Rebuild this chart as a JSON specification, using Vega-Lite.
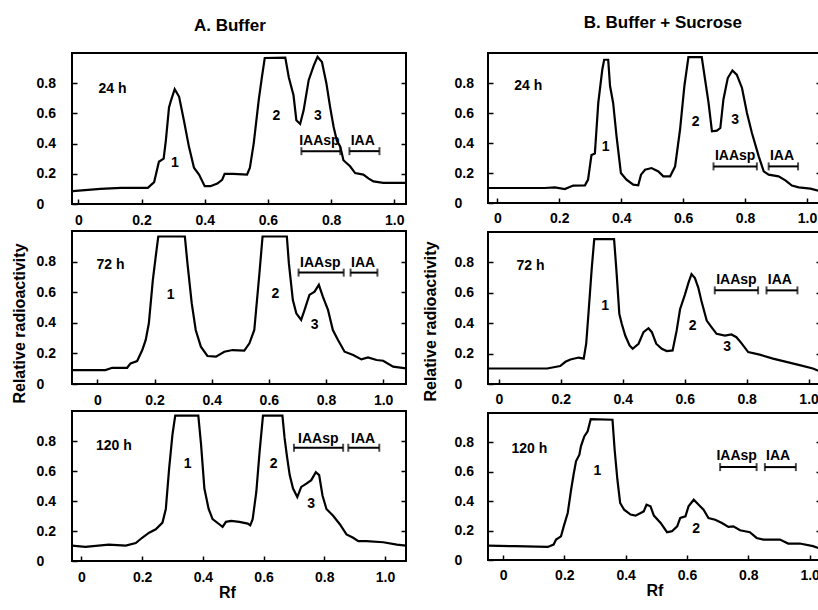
{
"$schema": "https://vega.github.io/schema/vega-lite/v6.json",
"background": "white",
"padding": {"left": 10, "top": 14, "right": 0, "bottom": 0},
"config": {
  "font": "Liberation Sans",
  "view": {"stroke": "black", "strokeWidth": 2},
  "title": {"fontSize": 17, "fontWeight": "bold", "font": "Liberation Sans", "anchor": "middle", "color": "black"},
  "axis": {"grid": false, "domain": false, "tickColor": "black", "tickWidth": 1.5, "tickSize": -5, "labelFont": "Liberation Sans", "labelFontSize": 14, "labelFontWeight": "bold", "labelColor": "black", "titleFont": "Liberation Sans", "titleFontSize": 16, "titleFontWeight": "bold", "titleColor": "black", "labelFlush": false, "labelOverlap": false}
},
"datasets": {
"curves": [
{"p":"A1","rf":-0.018,"ra":0.085},{"p":"A1","rf":0.07,"ra":0.1},{"p":"A1","rf":0.135,"ra":0.107},{"p":"A1","rf":0.22,"ra":0.107},{"p":"A1","rf":0.24,"ra":0.145},{"p":"A1","rf":0.255,"ra":0.28},{"p":"A1","rf":0.27,"ra":0.3},{"p":"A1","rf":0.277,"ra":0.42},{"p":"A1","rf":0.287,"ra":0.64},{"p":"A1","rf":0.294,"ra":0.69},{"p":"A1","rf":0.305,"ra":0.76},{"p":"A1","rf":0.319,"ra":0.71},{"p":"A1","rf":0.334,"ra":0.555},{"p":"A1","rf":0.35,"ra":0.38},{"p":"A1","rf":0.366,"ra":0.24},{"p":"A1","rf":0.382,"ra":0.195},{"p":"A1","rf":0.4,"ra":0.118},{"p":"A1","rf":0.418,"ra":0.118},{"p":"A1","rf":0.44,"ra":0.135},{"p":"A1","rf":0.455,"ra":0.16},{"p":"A1","rf":0.463,"ra":0.2},{"p":"A1","rf":0.49,"ra":0.2},{"p":"A1","rf":0.534,"ra":0.195},{"p":"A1","rf":0.543,"ra":0.24},{"p":"A1","rf":0.555,"ra":0.4},{"p":"A1","rf":0.571,"ra":0.69},{"p":"A1","rf":0.581,"ra":0.84},{"p":"A1","rf":0.59,"ra":0.967},{"p":"A1","rf":0.655,"ra":0.97},{"p":"A1","rf":0.666,"ra":0.84},{"p":"A1","rf":0.681,"ra":0.72},{"p":"A1","rf":0.69,"ra":0.555},{"p":"A1","rf":0.702,"ra":0.53},{"p":"A1","rf":0.713,"ra":0.62},{"p":"A1","rf":0.729,"ra":0.82},{"p":"A1","rf":0.745,"ra":0.917},{"p":"A1","rf":0.757,"ra":0.975},{"p":"A1","rf":0.771,"ra":0.94},{"p":"A1","rf":0.785,"ra":0.8},{"p":"A1","rf":0.797,"ra":0.64},{"p":"A1","rf":0.808,"ra":0.51},{"p":"A1","rf":0.818,"ra":0.42},{"p":"A1","rf":0.829,"ra":0.38},{"p":"A1","rf":0.839,"ra":0.29},{"p":"A1","rf":0.86,"ra":0.25},{"p":"A1","rf":0.876,"ra":0.205},{"p":"A1","rf":0.902,"ra":0.195},{"p":"A1","rf":0.918,"ra":0.17},{"p":"A1","rf":0.934,"ra":0.15},{"p":"A1","rf":0.965,"ra":0.14},{"p":"A1","rf":1.037,"ra":0.14},
{"p":"A2","rf":-0.087,"ra":0.091},{"p":"A2","rf":0.028,"ra":0.091},{"p":"A2","rf":0.052,"ra":0.106},{"p":"A2","rf":0.104,"ra":0.106},{"p":"A2","rf":0.116,"ra":0.135},{"p":"A2","rf":0.139,"ra":0.15},{"p":"A2","rf":0.157,"ra":0.222},{"p":"A2","rf":0.169,"ra":0.288},{"p":"A2","rf":0.18,"ra":0.397},{"p":"A2","rf":0.194,"ra":0.68},{"p":"A2","rf":0.204,"ra":0.833},{"p":"A2","rf":0.213,"ra":0.964},{"p":"A2","rf":0.306,"ra":0.964},{"p":"A2","rf":0.315,"ra":0.79},{"p":"A2","rf":0.33,"ra":0.528},{"p":"A2","rf":0.344,"ra":0.353},{"p":"A2","rf":0.362,"ra":0.244},{"p":"A2","rf":0.385,"ra":0.183},{"p":"A2","rf":0.415,"ra":0.179},{"p":"A2","rf":0.444,"ra":0.211},{"p":"A2","rf":0.473,"ra":0.222},{"p":"A2","rf":0.514,"ra":0.218},{"p":"A2","rf":0.532,"ra":0.266},{"p":"A2","rf":0.549,"ra":0.353},{"p":"A2","rf":0.567,"ra":0.724},{"p":"A2","rf":0.578,"ra":0.964},{"p":"A2","rf":0.663,"ra":0.964},{"p":"A2","rf":0.67,"ra":0.79},{"p":"A2","rf":0.684,"ra":0.549},{"p":"A2","rf":0.696,"ra":0.462},{"p":"A2","rf":0.713,"ra":0.419},{"p":"A2","rf":0.725,"ra":0.484},{"p":"A2","rf":0.742,"ra":0.582},{"p":"A2","rf":0.76,"ra":0.604},{"p":"A2","rf":0.775,"ra":0.648},{"p":"A2","rf":0.789,"ra":0.571},{"p":"A2","rf":0.807,"ra":0.484},{"p":"A2","rf":0.824,"ra":0.353},{"p":"A2","rf":0.842,"ra":0.288},{"p":"A2","rf":0.865,"ra":0.211},{"p":"A2","rf":0.895,"ra":0.189},{"p":"A2","rf":0.924,"ra":0.161},{"p":"A2","rf":0.947,"ra":0.174},{"p":"A2","rf":0.977,"ra":0.157},{"p":"A2","rf":1.0,"ra":0.152},{"p":"A2","rf":1.035,"ra":0.113},{"p":"A2","rf":1.08,"ra":0.102},
{"p":"A3","rf":-0.031,"ra":0.103},{"p":"A3","rf":0.013,"ra":0.094},{"p":"A3","rf":0.09,"ra":0.109},{"p":"A3","rf":0.146,"ra":0.103},{"p":"A3","rf":0.179,"ra":0.12},{"p":"A3","rf":0.2,"ra":0.155},{"p":"A3","rf":0.223,"ra":0.189},{"p":"A3","rf":0.245,"ra":0.211},{"p":"A3","rf":0.267,"ra":0.256},{"p":"A3","rf":0.278,"ra":0.347},{"p":"A3","rf":0.289,"ra":0.619},{"p":"A3","rf":0.3,"ra":0.845},{"p":"A3","rf":0.309,"ra":0.969},{"p":"A3","rf":0.385,"ra":0.969},{"p":"A3","rf":0.394,"ra":0.777},{"p":"A3","rf":0.405,"ra":0.483},{"p":"A3","rf":0.419,"ra":0.347},{"p":"A3","rf":0.432,"ra":0.279},{"p":"A3","rf":0.454,"ra":0.245},{"p":"A3","rf":0.465,"ra":0.227},{"p":"A3","rf":0.476,"ra":0.261},{"p":"A3","rf":0.493,"ra":0.268},{"p":"A3","rf":0.52,"ra":0.261},{"p":"A3","rf":0.548,"ra":0.249},{"p":"A3","rf":0.556,"ra":0.238},{"p":"A3","rf":0.564,"ra":0.279},{"p":"A3","rf":0.576,"ra":0.46},{"p":"A3","rf":0.587,"ra":0.732},{"p":"A3","rf":0.598,"ra":0.969},{"p":"A3","rf":0.662,"ra":0.969},{"p":"A3","rf":0.669,"ra":0.822},{"p":"A3","rf":0.677,"ra":0.698},{"p":"A3","rf":0.686,"ra":0.573},{"p":"A3","rf":0.697,"ra":0.483},{"p":"A3","rf":0.711,"ra":0.426},{"p":"A3","rf":0.724,"ra":0.494},{"p":"A3","rf":0.741,"ra":0.516},{"p":"A3","rf":0.757,"ra":0.539},{"p":"A3","rf":0.772,"ra":0.592},{"p":"A3","rf":0.783,"ra":0.573},{"p":"A3","rf":0.794,"ra":0.437},{"p":"A3","rf":0.807,"ra":0.347},{"p":"A3","rf":0.829,"ra":0.302},{"p":"A3","rf":0.851,"ra":0.245},{"p":"A3","rf":0.873,"ra":0.177},{"p":"A3","rf":0.895,"ra":0.155},{"p":"A3","rf":0.912,"ra":0.132},{"p":"A3","rf":0.939,"ra":0.132},{"p":"A3","rf":0.994,"ra":0.125},{"p":"A3","rf":1.039,"ra":0.109},{"p":"A3","rf":1.069,"ra":0.103},
{"p":"B1","rf":-0.03,"ra":0.1},{"p":"B1","rf":0.153,"ra":0.1},{"p":"B1","rf":0.186,"ra":0.104},{"p":"B1","rf":0.218,"ra":0.093},{"p":"B1","rf":0.245,"ra":0.116},{"p":"B1","rf":0.283,"ra":0.118},{"p":"B1","rf":0.293,"ra":0.156},{"p":"B1","rf":0.304,"ra":0.32},{"p":"B1","rf":0.315,"ra":0.33},{"p":"B1","rf":0.326,"ra":0.667},{"p":"B1","rf":0.339,"ra":0.89},{"p":"B1","rf":0.345,"ra":0.955},{"p":"B1","rf":0.358,"ra":0.955},{"p":"B1","rf":0.364,"ra":0.78},{"p":"B1","rf":0.374,"ra":0.667},{"p":"B1","rf":0.385,"ra":0.444},{"p":"B1","rf":0.399,"ra":0.2},{"p":"B1","rf":0.417,"ra":0.156},{"p":"B1","rf":0.439,"ra":0.122},{"p":"B1","rf":0.455,"ra":0.118},{"p":"B1","rf":0.464,"ra":0.189},{"p":"B1","rf":0.477,"ra":0.222},{"p":"B1","rf":0.498,"ra":0.233},{"p":"B1","rf":0.52,"ra":0.21},{"p":"B1","rf":0.536,"ra":0.178},{"p":"B1","rf":0.558,"ra":0.178},{"p":"B1","rf":0.574,"ra":0.244},{"p":"B1","rf":0.59,"ra":0.49},{"p":"B1","rf":0.604,"ra":0.78},{"p":"B1","rf":0.617,"ra":0.973},{"p":"B1","rf":0.66,"ra":0.973},{"p":"B1","rf":0.671,"ra":0.82},{"p":"B1","rf":0.682,"ra":0.667},{"p":"B1","rf":0.693,"ra":0.478},{"p":"B1","rf":0.709,"ra":0.482},{"p":"B1","rf":0.72,"ra":0.5},{"p":"B1","rf":0.73,"ra":0.69},{"p":"B1","rf":0.744,"ra":0.833},{"p":"B1","rf":0.759,"ra":0.884},{"p":"B1","rf":0.773,"ra":0.856},{"p":"B1","rf":0.79,"ra":0.767},{"p":"B1","rf":0.806,"ra":0.6},{"p":"B1","rf":0.822,"ra":0.467},{"p":"B1","rf":0.844,"ra":0.311},{"p":"B1","rf":0.86,"ra":0.211},{"p":"B1","rf":0.876,"ra":0.189},{"p":"B1","rf":0.908,"ra":0.178},{"p":"B1","rf":0.93,"ra":0.151},{"p":"B1","rf":0.951,"ra":0.116},{"p":"B1","rf":0.973,"ra":0.104},{"p":"B1","rf":1.011,"ra":0.096},{"p":"B1","rf":1.043,"ra":0.078},
{"p":"B2","rf":-0.035,"ra":0.102},{"p":"B2","rf":0.156,"ra":0.102},{"p":"B2","rf":0.198,"ra":0.118},{"p":"B2","rf":0.215,"ra":0.146},{"p":"B2","rf":0.231,"ra":0.161},{"p":"B2","rf":0.258,"ra":0.174},{"p":"B2","rf":0.274,"ra":0.167},{"p":"B2","rf":0.282,"ra":0.265},{"p":"B2","rf":0.29,"ra":0.482},{"p":"B2","rf":0.3,"ra":0.763},{"p":"B2","rf":0.308,"ra":0.953},{"p":"B2","rf":0.372,"ra":0.953},{"p":"B2","rf":0.379,"ra":0.763},{"p":"B2","rf":0.389,"ra":0.46},{"p":"B2","rf":0.397,"ra":0.395},{"p":"B2","rf":0.408,"ra":0.319},{"p":"B2","rf":0.422,"ra":0.254},{"p":"B2","rf":0.432,"ra":0.232},{"p":"B2","rf":0.451,"ra":0.265},{"p":"B2","rf":0.467,"ra":0.341},{"p":"B2","rf":0.483,"ra":0.367},{"p":"B2","rf":0.494,"ra":0.341},{"p":"B2","rf":0.508,"ra":0.265},{"p":"B2","rf":0.526,"ra":0.232},{"p":"B2","rf":0.542,"ra":0.217},{"p":"B2","rf":0.561,"ra":0.221},{"p":"B2","rf":0.574,"ra":0.351},{"p":"B2","rf":0.585,"ra":0.492},{"p":"B2","rf":0.601,"ra":0.59},{"p":"B2","rf":0.612,"ra":0.665},{"p":"B2","rf":0.622,"ra":0.723},{"p":"B2","rf":0.633,"ra":0.697},{"p":"B2","rf":0.644,"ra":0.633},{"p":"B2","rf":0.654,"ra":0.546},{"p":"B2","rf":0.671,"ra":0.417},{"p":"B2","rf":0.687,"ra":0.373},{"p":"B2","rf":0.703,"ra":0.33},{"p":"B2","rf":0.73,"ra":0.319},{"p":"B2","rf":0.751,"ra":0.326},{"p":"B2","rf":0.767,"ra":0.308},{"p":"B2","rf":0.783,"ra":0.269},{"p":"B2","rf":0.805,"ra":0.21},{"p":"B2","rf":0.842,"ra":0.193},{"p":"B2","rf":0.885,"ra":0.167},{"p":"B2","rf":0.928,"ra":0.146},{"p":"B2","rf":0.971,"ra":0.124},{"p":"B2","rf":1.014,"ra":0.102},{"p":"B2","rf":1.04,"ra":0.08},
{"p":"B3","rf":-0.049,"ra":0.098},{"p":"B3","rf":0.038,"ra":0.094},{"p":"B3","rf":0.146,"ra":0.089},{"p":"B3","rf":0.165,"ra":0.105},{"p":"B3","rf":0.173,"ra":0.139},{"p":"B3","rf":0.189,"ra":0.161},{"p":"B3","rf":0.198,"ra":0.229},{"p":"B3","rf":0.211,"ra":0.32},{"p":"B3","rf":0.222,"ra":0.478},{"p":"B3","rf":0.23,"ra":0.58},{"p":"B3","rf":0.238,"ra":0.671},{"p":"B3","rf":0.249,"ra":0.716},{"p":"B3","rf":0.254,"ra":0.773},{"p":"B3","rf":0.265,"ra":0.841},{"p":"B3","rf":0.276,"ra":0.875},{"p":"B3","rf":0.286,"ra":0.958},{"p":"B3","rf":0.357,"ra":0.954},{"p":"B3","rf":0.364,"ra":0.75},{"p":"B3","rf":0.373,"ra":0.546},{"p":"B3","rf":0.382,"ra":0.388},{"p":"B3","rf":0.395,"ra":0.342},{"p":"B3","rf":0.416,"ra":0.309},{"p":"B3","rf":0.432,"ra":0.302},{"p":"B3","rf":0.449,"ra":0.32},{"p":"B3","rf":0.459,"ra":0.331},{"p":"B3","rf":0.468,"ra":0.376},{"p":"B3","rf":0.481,"ra":0.365},{"p":"B3","rf":0.492,"ra":0.302},{"p":"B3","rf":0.514,"ra":0.252},{"p":"B3","rf":0.535,"ra":0.189},{"p":"B3","rf":0.551,"ra":0.196},{"p":"B3","rf":0.568,"ra":0.229},{"p":"B3","rf":0.578,"ra":0.286},{"p":"B3","rf":0.595,"ra":0.297},{"p":"B3","rf":0.605,"ra":0.365},{"p":"B3","rf":0.622,"ra":0.41},{"p":"B3","rf":0.638,"ra":0.376},{"p":"B3","rf":0.654,"ra":0.342},{"p":"B3","rf":0.67,"ra":0.286},{"p":"B3","rf":0.692,"ra":0.274},{"p":"B3","rf":0.714,"ra":0.252},{"p":"B3","rf":0.735,"ra":0.225},{"p":"B3","rf":0.751,"ra":0.229},{"p":"B3","rf":0.773,"ra":0.202},{"p":"B3","rf":0.805,"ra":0.189},{"p":"B3","rf":0.827,"ra":0.15},{"p":"B3","rf":0.849,"ra":0.139},{"p":"B3","rf":0.903,"ra":0.139},{"p":"B3","rf":0.93,"ra":0.112},{"p":"B3","rf":0.968,"ra":0.112},{"p":"B3","rf":1.011,"ra":0.094},{"p":"B3","rf":1.037,"ra":0.075}
],
"notes": [
{"p":"A1","x":0.108,"y":0.76,"t":"24 h"},{"p":"A1","x":0.306,"y":0.27,"t":"1"},{"p":"A1","x":0.627,"y":0.58,"t":"2"},{"p":"A1","x":0.758,"y":0.58,"t":"3"},{"p":"A1","x":0.763,"y":0.42,"t":"IAAsp"},{"p":"A1","x":0.9,"y":0.42,"t":"IAA"},
{"p":"A2","x":0.046,"y":0.778,"t":"72 h"},{"p":"A2","x":0.256,"y":0.582,"t":"1"},{"p":"A2","x":0.623,"y":0.589,"t":"2"},{"p":"A2","x":0.76,"y":0.386,"t":"3"},{"p":"A2","x":0.78,"y":0.79,"t":"IAAsp"},{"p":"A2","x":0.93,"y":0.79,"t":"IAA"},
{"p":"A3","x":0.107,"y":0.766,"t":"120 h"},{"p":"A3","x":0.35,"y":0.648,"t":"1"},{"p":"A3","x":0.633,"y":0.648,"t":"2"},{"p":"A3","x":0.757,"y":0.381,"t":"3"},{"p":"A3","x":0.78,"y":0.811,"t":"IAAsp"},{"p":"A3","x":0.928,"y":0.811,"t":"IAA"},
{"p":"B1","x":0.1,"y":0.78,"t":"24 h"},{"p":"B1","x":0.35,"y":0.373,"t":"1"},{"p":"B1","x":0.64,"y":0.54,"t":"2"},{"p":"B1","x":0.768,"y":0.556,"t":"3"},{"p":"B1","x":0.768,"y":0.311,"t":"IAAsp"},{"p":"B1","x":0.919,"y":0.311,"t":"IAA"},
{"p":"B2","x":0.102,"y":0.774,"t":"72 h"},{"p":"B2","x":0.343,"y":0.514,"t":"1"},{"p":"B2","x":0.626,"y":0.384,"t":"2"},{"p":"B2","x":0.737,"y":0.243,"t":"3"},{"p":"B2","x":0.767,"y":0.687,"t":"IAAsp"},{"p":"B2","x":0.907,"y":0.687,"t":"IAA"},
{"p":"B3","x":0.086,"y":0.754,"t":"120 h"},{"p":"B3","x":0.308,"y":0.607,"t":"1"},{"p":"B3","x":0.63,"y":0.211,"t":"2"},{"p":"B3","x":0.762,"y":0.709,"t":"IAAsp"},{"p":"B3","x":0.897,"y":0.709,"t":"IAA"}
],
"bars": [
{"p":"A1","x1":0.706,"x2":0.829,"y":0.35},{"p":"A1","x1":0.858,"x2":0.953,"y":0.35},
{"p":"A2","x1":0.704,"x2":0.862,"y":0.728},{"p":"A2","x1":0.886,"x2":0.98,"y":0.728},
{"p":"A3","x1":0.7,"x2":0.862,"y":0.755},{"p":"A3","x1":0.879,"x2":0.981,"y":0.755},
{"p":"B1","x1":0.698,"x2":0.838,"y":0.244},{"p":"B1","x1":0.876,"x2":0.971,"y":0.244},
{"p":"B2","x1":0.697,"x2":0.837,"y":0.616},{"p":"B2","x1":0.864,"x2":0.964,"y":0.616},
{"p":"B3","x1":0.708,"x2":0.827,"y":0.632},{"p":"B3","x1":0.854,"x2":0.955,"y":0.632}
]
},
"spacing": 13,
"hconcat": [
{
"title": {"text": "A. Buffer", "offset": 17, "dx": 21},
"spacing": 2,
"vconcat": [
{"width": 334, "height": 151, "resolve": {"axis": {"y": "independent"}}, "layer": [
 {"data": {"name": "curves"}, "transform": [{"filter": "datum.p === 'A1'"}], "mark": {"type": "line", "color": "black", "strokeWidth": 2.2, "clip": true},
  "encoding": {"x": {"field": "rf", "type": "quantitative", "scale": {"domain": [-0.02, 1.037], "nice": false, "zero": false}, "axis": {"values": [0,0.1,0.2,0.3,0.4,0.5,0.6,0.7,0.8,0.9,1], "labelExpr": "round(datum.value*10) % 2 == 0 ? (datum.value == 0 ? '0' : format(datum.value, '.1f')) : ''", "labelPadding": 14, "title": null}},
   "y": {"field": "ra", "type": "quantitative", "scale": {"domain": [0, 1], "nice": false}, "axis": {"values": [0,0.2,0.4,0.6,0.8], "labelExpr": "datum.value == 0 ? '0' : format(datum.value, '.1f')", "labelAlign": "left", "labelPadding": 41, "title": null}}}},
 {"data": {"name": "curves"}, "transform": [{"filter": "datum.p === 'A1'"}], "mark": {"type": "line", "opacity": 0},
  "encoding": {"x": {"field": "rf", "type": "quantitative"}, "y": {"field": "ra", "type": "quantitative", "axis": {"orient": "right", "labels": false, "values": [0.2,0.4,0.6,0.8], "title": null}}}},
 {"data": {"name": "notes"}, "transform": [{"filter": "datum.p === 'A1'"}], "mark": {"type": "text", "fontSize": 14, "fontWeight": "bold", "color": "black"},
  "encoding": {"x": {"field": "x", "type": "quantitative"}, "y": {"field": "y", "type": "quantitative", "axis": null}, "text": {"field": "t"}}},
 {"data": {"name": "bars"}, "transform": [{"filter": "datum.p === 'A1'"}], "mark": {"type": "rule", "strokeWidth": 2, "color": "black"},
  "encoding": {"x": {"field": "x1", "type": "quantitative"}, "x2": {"field": "x2"}, "y": {"field": "y", "type": "quantitative", "axis": null}}},
 {"data": {"name": "bars"}, "transform": [{"filter": "datum.p === 'A1'"}, {"fold": ["x1", "x2"], "as": ["end", "xe"]}], "mark": {"type": "tick", "orient": "vertical", "size": 8, "thickness": 2, "color": "black"},
  "encoding": {"x": {"field": "xe", "type": "quantitative"}, "y": {"field": "y", "type": "quantitative", "axis": null}}}
]},
{"width": 334, "height": 153, "resolve": {"axis": {"y": "independent"}}, "layer": [
 {"data": {"name": "curves"}, "transform": [{"filter": "datum.p === 'A2'"}], "mark": {"type": "line", "color": "black", "strokeWidth": 2.2, "clip": true},
  "encoding": {"x": {"field": "rf", "type": "quantitative", "scale": {"domain": [-0.089, 1.08], "nice": false, "zero": false}, "axis": {"values": [0,0.1,0.2,0.3,0.4,0.5,0.6,0.7,0.8,0.9,1], "labelExpr": "round(datum.value*10) % 2 == 0 ? (datum.value == 0 ? '0' : format(datum.value, '.1f')) : ''", "labelPadding": 14, "title": null}},
   "y": {"field": "ra", "type": "quantitative", "scale": {"domain": [0, 1], "nice": false}, "axis": {"values": [0,0.2,0.4,0.6,0.8], "labelExpr": "datum.value == 0 ? '0' : format(datum.value, '.1f')", "labelAlign": "left", "labelPadding": 41, "title": "Relative radioactivity", "titlePadding": 9, "titleY": 92}}}},
 {"data": {"name": "curves"}, "transform": [{"filter": "datum.p === 'A2'"}], "mark": {"type": "line", "opacity": 0},
  "encoding": {"x": {"field": "rf", "type": "quantitative"}, "y": {"field": "ra", "type": "quantitative", "axis": {"orient": "right", "labels": false, "values": [0.2,0.4,0.6,0.8], "title": null}}}},
 {"data": {"name": "notes"}, "transform": [{"filter": "datum.p === 'A2'"}], "mark": {"type": "text", "fontSize": 14, "fontWeight": "bold", "color": "black"},
  "encoding": {"x": {"field": "x", "type": "quantitative"}, "y": {"field": "y", "type": "quantitative", "axis": null}, "text": {"field": "t"}}},
 {"data": {"name": "bars"}, "transform": [{"filter": "datum.p === 'A2'"}], "mark": {"type": "rule", "strokeWidth": 2, "color": "black"},
  "encoding": {"x": {"field": "x1", "type": "quantitative"}, "x2": {"field": "x2"}, "y": {"field": "y", "type": "quantitative", "axis": null}}},
 {"data": {"name": "bars"}, "transform": [{"filter": "datum.p === 'A2'"}, {"fold": ["x1", "x2"], "as": ["end", "xe"]}], "mark": {"type": "tick", "orient": "vertical", "size": 8, "thickness": 2, "color": "black"},
  "encoding": {"x": {"field": "xe", "type": "quantitative"}, "y": {"field": "y", "type": "quantitative", "axis": null}}}
]},
{"width": 334, "height": 150, "resolve": {"axis": {"y": "independent"}}, "layer": [
 {"data": {"name": "curves"}, "transform": [{"filter": "datum.p === 'A3'"}], "mark": {"type": "line", "color": "black", "strokeWidth": 2.2, "clip": true},
  "encoding": {"x": {"field": "rf", "type": "quantitative", "scale": {"domain": [-0.031, 1.069], "nice": false, "zero": false}, "axis": {"values": [0,0.1,0.2,0.3,0.4,0.5,0.6,0.7,0.8,0.9,1], "labelExpr": "round(datum.value*10) % 2 == 0 ? (datum.value == 0 ? '0' : format(datum.value, '.1f')) : ''", "labelPadding": 14, "title": "Rf", "titleFontSize": 16, "titlePadding": 0, "titleX": 155}},
   "y": {"field": "ra", "type": "quantitative", "scale": {"domain": [0, 1], "nice": false}, "axis": {"values": [0,0.2,0.4,0.6,0.8], "labelExpr": "datum.value == 0 ? '0' : format(datum.value, '.1f')", "labelAlign": "left", "labelPadding": 41, "title": null}}}},
 {"data": {"name": "curves"}, "transform": [{"filter": "datum.p === 'A3'"}], "mark": {"type": "line", "opacity": 0},
  "encoding": {"x": {"field": "rf", "type": "quantitative"}, "y": {"field": "ra", "type": "quantitative", "axis": {"orient": "right", "labels": false, "values": [0.2,0.4,0.6,0.8], "title": null}}}},
 {"data": {"name": "notes"}, "transform": [{"filter": "datum.p === 'A3'"}], "mark": {"type": "text", "fontSize": 14, "fontWeight": "bold", "color": "black"},
  "encoding": {"x": {"field": "x", "type": "quantitative"}, "y": {"field": "y", "type": "quantitative", "axis": null}, "text": {"field": "t"}}},
 {"data": {"name": "bars"}, "transform": [{"filter": "datum.p === 'A3'"}], "mark": {"type": "rule", "strokeWidth": 2, "color": "black"},
  "encoding": {"x": {"field": "x1", "type": "quantitative"}, "x2": {"field": "x2"}, "y": {"field": "y", "type": "quantitative", "axis": null}}},
 {"data": {"name": "bars"}, "transform": [{"filter": "datum.p === 'A3'"}, {"fold": ["x1", "x2"], "as": ["end", "xe"]}], "mark": {"type": "tick", "orient": "vertical", "size": 8, "thickness": 2, "color": "black"},
  "encoding": {"x": {"field": "xe", "type": "quantitative"}, "y": {"field": "y", "type": "quantitative", "axis": null}}}
]}
]
},
{
"title": {"text": "B. Buffer + Sucrose", "offset": 20, "dx": 41},
"spacing": 5,
"vconcat": [
{"width": 333, "height": 150, "resolve": {"axis": {"y": "independent"}}, "layer": [
 {"data": {"name": "curves"}, "transform": [{"filter": "datum.p === 'B1'"}], "mark": {"type": "line", "color": "black", "strokeWidth": 2.2, "clip": true},
  "encoding": {"x": {"field": "rf", "type": "quantitative", "scale": {"domain": [-0.03, 1.045], "nice": false, "zero": false}, "axis": {"values": [0,0.1,0.2,0.3,0.4,0.5,0.6,0.7,0.8,0.9,1], "labelExpr": "round(datum.value*10) % 2 == 0 ? (datum.value == 0 ? '0' : format(datum.value, '.1f')) : ''", "labelPadding": 13, "title": null}},
   "y": {"field": "ra", "type": "quantitative", "scale": {"domain": [0, 1], "nice": false}, "axis": {"values": [0,0.2,0.4,0.6,0.8], "labelExpr": "datum.value == 0 ? '0' : format(datum.value, '.1f')", "labelAlign": "left", "labelPadding": 39, "title": null}}}},
 {"data": {"name": "curves"}, "transform": [{"filter": "datum.p === 'B1'"}], "mark": {"type": "line", "opacity": 0},
  "encoding": {"x": {"field": "rf", "type": "quantitative"}, "y": {"field": "ra", "type": "quantitative", "axis": {"orient": "right", "labels": false, "values": [0.2,0.4,0.6,0.8], "title": null}}}},
 {"data": {"name": "notes"}, "transform": [{"filter": "datum.p === 'B1'"}], "mark": {"type": "text", "fontSize": 14, "fontWeight": "bold", "color": "black"},
  "encoding": {"x": {"field": "x", "type": "quantitative"}, "y": {"field": "y", "type": "quantitative", "axis": null}, "text": {"field": "t"}}},
 {"data": {"name": "bars"}, "transform": [{"filter": "datum.p === 'B1'"}], "mark": {"type": "rule", "strokeWidth": 2, "color": "black"},
  "encoding": {"x": {"field": "x1", "type": "quantitative"}, "x2": {"field": "x2"}, "y": {"field": "y", "type": "quantitative", "axis": null}}},
 {"data": {"name": "bars"}, "transform": [{"filter": "datum.p === 'B1'"}, {"fold": ["x1", "x2"], "as": ["end", "xe"]}], "mark": {"type": "tick", "orient": "vertical", "size": 8, "thickness": 2, "color": "black"},
  "encoding": {"x": {"field": "xe", "type": "quantitative"}, "y": {"field": "y", "type": "quantitative", "axis": null}}}
]},
{"width": 333, "height": 152, "resolve": {"axis": {"y": "independent"}}, "layer": [
 {"data": {"name": "curves"}, "transform": [{"filter": "datum.p === 'B2'"}], "mark": {"type": "line", "color": "black", "strokeWidth": 2.2, "clip": true},
  "encoding": {"x": {"field": "rf", "type": "quantitative", "scale": {"domain": [-0.035, 1.04], "nice": false, "zero": false}, "axis": {"values": [0,0.1,0.2,0.3,0.4,0.5,0.6,0.7,0.8,0.9,1], "labelExpr": "round(datum.value*10) % 2 == 0 ? (datum.value == 0 ? '0' : format(datum.value, '.1f')) : ''", "labelPadding": 13, "title": null}},
   "y": {"field": "ra", "type": "quantitative", "scale": {"domain": [0, 1], "nice": false}, "axis": {"values": [0,0.2,0.4,0.6,0.8], "labelExpr": "datum.value == 0 ? '0' : format(datum.value, '.1f')", "labelAlign": "left", "labelPadding": 39, "title": "Relative radioactivity", "titlePadding": 16, "titleY": 89}}}},
 {"data": {"name": "curves"}, "transform": [{"filter": "datum.p === 'B2'"}], "mark": {"type": "line", "opacity": 0},
  "encoding": {"x": {"field": "rf", "type": "quantitative"}, "y": {"field": "ra", "type": "quantitative", "axis": {"orient": "right", "labels": false, "values": [0.2,0.4,0.6,0.8], "title": null}}}},
 {"data": {"name": "notes"}, "transform": [{"filter": "datum.p === 'B2'"}], "mark": {"type": "text", "fontSize": 14, "fontWeight": "bold", "color": "black"},
  "encoding": {"x": {"field": "x", "type": "quantitative"}, "y": {"field": "y", "type": "quantitative", "axis": null}, "text": {"field": "t"}}},
 {"data": {"name": "bars"}, "transform": [{"filter": "datum.p === 'B2'"}], "mark": {"type": "rule", "strokeWidth": 2, "color": "black"},
  "encoding": {"x": {"field": "x1", "type": "quantitative"}, "x2": {"field": "x2"}, "y": {"field": "y", "type": "quantitative", "axis": null}}},
 {"data": {"name": "bars"}, "transform": [{"filter": "datum.p === 'B2'"}, {"fold": ["x1", "x2"], "as": ["end", "xe"]}], "mark": {"type": "tick", "orient": "vertical", "size": 8, "thickness": 2, "color": "black"},
  "encoding": {"x": {"field": "xe", "type": "quantitative"}, "y": {"field": "y", "type": "quantitative", "axis": null}}}
]},
{"width": 333, "height": 147, "resolve": {"axis": {"y": "independent"}}, "layer": [
 {"data": {"name": "curves"}, "transform": [{"filter": "datum.p === 'B3'"}], "mark": {"type": "line", "color": "black", "strokeWidth": 2.2, "clip": true},
  "encoding": {"x": {"field": "rf", "type": "quantitative", "scale": {"domain": [-0.049, 1.037], "nice": false, "zero": false}, "axis": {"values": [0,0.1,0.2,0.3,0.4,0.5,0.6,0.7,0.8,0.9,1], "labelExpr": "round(datum.value*10) % 2 == 0 ? (datum.value == 0 ? '0' : format(datum.value, '.1f')) : ''", "labelPadding": 13, "title": "Rf", "titleFontSize": 16, "titlePadding": 0}},
   "y": {"field": "ra", "type": "quantitative", "scale": {"domain": [0, 1], "nice": false}, "axis": {"values": [0,0.2,0.4,0.6,0.8], "labelExpr": "datum.value == 0 ? '0' : format(datum.value, '.1f')", "labelAlign": "left", "labelPadding": 39, "title": null}}}},
 {"data": {"name": "curves"}, "transform": [{"filter": "datum.p === 'B3'"}], "mark": {"type": "line", "opacity": 0},
  "encoding": {"x": {"field": "rf", "type": "quantitative"}, "y": {"field": "ra", "type": "quantitative", "axis": {"orient": "right", "labels": false, "values": [0.2,0.4,0.6,0.8], "title": null}}}},
 {"data": {"name": "notes"}, "transform": [{"filter": "datum.p === 'B3'"}], "mark": {"type": "text", "fontSize": 14, "fontWeight": "bold", "color": "black"},
  "encoding": {"x": {"field": "x", "type": "quantitative"}, "y": {"field": "y", "type": "quantitative", "axis": null}, "text": {"field": "t"}}},
 {"data": {"name": "bars"}, "transform": [{"filter": "datum.p === 'B3'"}], "mark": {"type": "rule", "strokeWidth": 2, "color": "black"},
  "encoding": {"x": {"field": "x1", "type": "quantitative"}, "x2": {"field": "x2"}, "y": {"field": "y", "type": "quantitative", "axis": null}}},
 {"data": {"name": "bars"}, "transform": [{"filter": "datum.p === 'B3'"}, {"fold": ["x1", "x2"], "as": ["end", "xe"]}], "mark": {"type": "tick", "orient": "vertical", "size": 8, "thickness": 2, "color": "black"},
  "encoding": {"x": {"field": "xe", "type": "quantitative"}, "y": {"field": "y", "type": "quantitative", "axis": null}}}
]}
]
}
]
}
